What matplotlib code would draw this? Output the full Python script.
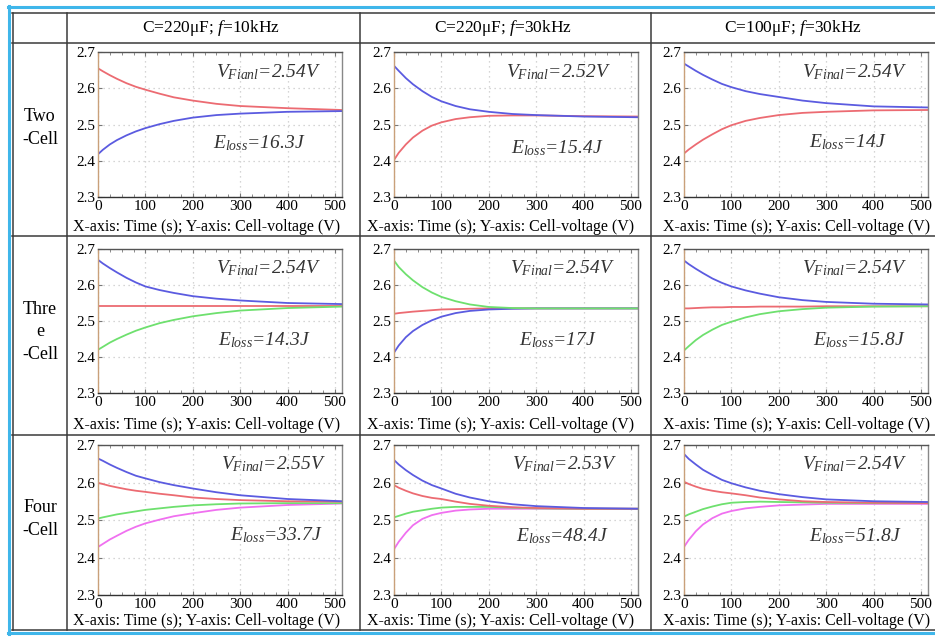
"""Cell-voltage balancing table: 3 cell counts x 3 (C, f) settings."""
import matplotlib
matplotlib.use("Agg")
import matplotlib.pyplot as plt
from matplotlib.lines import Line2D

plt.rcParams["font.family"] = ["Liberation Serif", "DejaVu Serif"]
plt.rcParams["mathtext.fontset"] = "custom"
plt.rcParams["mathtext.rm"] = "Liberation Serif"
plt.rcParams["mathtext.it"] = "Liberation Serif:italic"

W, H = 935, 637

# time samples (s)
T = [0, 10, 25, 40, 60, 80, 100, 130, 160, 200, 250, 300, 400, 515]

COL_TITLES = ["C=220\u03bcF; $f$=10kHz", "C=220\u03bcF; $f$=30kHz", "C=100\u03bcF; $f$=30kHz"]
ROW_LABELS = ["Two\n-Cell", "Thre\ne\n-Cell", "Four\n-Cell"]
X_TICKS = [0, 100, 200, 300, 400, 500]
Y_TICKS = [2.3, 2.4, 2.5, 2.6, 2.7]
CAPTION = "X-axis: Time (s); Y-axis: Cell-voltage (V)"

V_NAMES = [["Fianl", "Final", "Final"], ["Final", "Final", "Final"], ["Final", "Final", "Final"]]
V_FINAL = [["2.54V", "2.52V", "2.54V"], ["2.54V", "2.54V", "2.54V"], ["2.55V", "2.53V", "2.54V"]]
E_LOSS = [["16.3J", "15.4J", "14J"], ["14.3J", "17J", "15.8J"], ["33.7J", "48.4J", "51.8J"]]

# two-cell
two_10k_red = [2.655, 2.647, 2.636, 2.626, 2.614, 2.604, 2.596, 2.585, 2.575, 2.566, 2.557, 2.551, 2.545, 2.540]
two_10k_blue = [2.418, 2.430, 2.445, 2.457, 2.470, 2.481, 2.490, 2.501, 2.510, 2.519, 2.526, 2.530, 2.535, 2.537]
two_30k_blue = [2.662, 2.648, 2.628, 2.611, 2.592, 2.576, 2.564, 2.551, 2.542, 2.535, 2.529, 2.526, 2.522, 2.520]
two_30k_red = [2.402, 2.422, 2.445, 2.464, 2.483, 2.497, 2.506, 2.515, 2.520, 2.524, 2.525, 2.525, 2.523, 2.522]
two_100u_blue = [2.668, 2.660, 2.648, 2.637, 2.624, 2.612, 2.603, 2.592, 2.584, 2.576, 2.566, 2.559, 2.550, 2.547]
two_100u_red = [2.420, 2.431, 2.445, 2.458, 2.473, 2.487, 2.498, 2.510, 2.518, 2.526, 2.532, 2.535, 2.539, 2.540]

# three-cell
three_10k_blue = [2.670, 2.660, 2.647, 2.635, 2.620, 2.607, 2.596, 2.586, 2.578, 2.569, 2.562, 2.557, 2.550, 2.547]
three_10k_red = [2.542, 2.542, 2.542, 2.542, 2.542, 2.542, 2.542, 2.542, 2.542, 2.542, 2.542, 2.542, 2.542, 2.542]
three_10k_green = [2.420, 2.428, 2.440, 2.450, 2.462, 2.473, 2.482, 2.494, 2.503, 2.513, 2.522, 2.529, 2.536, 2.540]
three_30k_green = [2.668, 2.650, 2.630, 2.613, 2.594, 2.579, 2.567, 2.555, 2.546, 2.539, 2.536, 2.535, 2.535, 2.535]
three_30k_red = [2.520, 2.522, 2.524, 2.526, 2.528, 2.530, 2.532, 2.533, 2.534, 2.535, 2.535, 2.535, 2.535, 2.535]
three_30k_blue = [2.412, 2.432, 2.455, 2.472, 2.489, 2.502, 2.512, 2.522, 2.528, 2.532, 2.534, 2.535, 2.535, 2.535]
three_100u_blue = [2.668, 2.658, 2.645, 2.633, 2.618, 2.606, 2.596, 2.585, 2.576, 2.566, 2.558, 2.553, 2.548, 2.546]
three_100u_red = [2.535, 2.535, 2.536, 2.537, 2.538, 2.538, 2.539, 2.539, 2.540, 2.540, 2.540, 2.541, 2.541, 2.541]
three_100u_green = [2.418, 2.430, 2.447, 2.461, 2.476, 2.489, 2.498, 2.510, 2.519, 2.527, 2.533, 2.537, 2.540, 2.541]

# four-cell
four_10k_blue = [2.664, 2.658, 2.648, 2.639, 2.628, 2.618, 2.611, 2.601, 2.593, 2.584, 2.574, 2.566, 2.556, 2.550]
four_10k_red = [2.599, 2.596, 2.591, 2.587, 2.582, 2.578, 2.575, 2.570, 2.566, 2.560, 2.556, 2.553, 2.550, 2.549]
four_10k_green = [2.504, 2.507, 2.511, 2.515, 2.519, 2.523, 2.527, 2.531, 2.535, 2.539, 2.542, 2.544, 2.545, 2.545]
four_10k_mag = [2.428, 2.436, 2.448, 2.458, 2.471, 2.482, 2.491, 2.501, 2.510, 2.518, 2.527, 2.533, 2.540, 2.544]
four_30k_blue = [2.660, 2.648, 2.633, 2.620, 2.605, 2.593, 2.584, 2.570, 2.560, 2.550, 2.542, 2.537, 2.532, 2.530]
four_30k_red = [2.593, 2.586, 2.578, 2.571, 2.564, 2.559, 2.556, 2.549, 2.543, 2.538, 2.534, 2.532, 2.530, 2.530]
four_30k_green = [2.507, 2.511, 2.517, 2.522, 2.526, 2.530, 2.533, 2.535, 2.535, 2.535, 2.533, 2.531, 2.530, 2.530]
four_30k_mag = [2.422, 2.442, 2.466, 2.486, 2.503, 2.513, 2.519, 2.525, 2.528, 2.530, 2.530, 2.530, 2.530, 2.530]
four_100u_blue = [2.676, 2.663, 2.648, 2.634, 2.620, 2.607, 2.598, 2.587, 2.578, 2.569, 2.561, 2.555, 2.550, 2.548]
four_100u_red = [2.602, 2.596, 2.589, 2.583, 2.578, 2.574, 2.571, 2.566, 2.560, 2.555, 2.550, 2.548, 2.546, 2.545]
four_100u_green = [2.509, 2.515, 2.522, 2.529, 2.536, 2.542, 2.546, 2.548, 2.549, 2.548, 2.547, 2.546, 2.545, 2.545]
four_100u_mag = [2.428, 2.447, 2.470, 2.488, 2.505, 2.517, 2.524, 2.531, 2.535, 2.539, 2.541, 2.543, 2.543, 2.543]

RED, BLUE, GREEN, MAG = "#ec6b72", "#5b5be0", "#6ee06e", "#f070f0"

PANELS = [
    [[(two_10k_red, RED), (two_10k_blue, BLUE)],
     [(two_30k_red, RED), (two_30k_blue, BLUE)],
     [(two_100u_red, RED), (two_100u_blue, BLUE)]],
    [[(three_10k_red, RED), (three_10k_green, GREEN), (three_10k_blue, BLUE)],
     [(three_30k_red, RED), (three_30k_blue, BLUE), (three_30k_green, GREEN)],
     [(three_100u_red, RED), (three_100u_green, GREEN), (three_100u_blue, BLUE)]],
    [[(four_10k_mag, MAG), (four_10k_green, GREEN), (four_10k_red, RED), (four_10k_blue, BLUE)],
     [(four_30k_mag, MAG), (four_30k_green, GREEN), (four_30k_red, RED), (four_30k_blue, BLUE)],
     [(four_100u_mag, MAG), (four_100u_green, GREEN), (four_100u_red, RED), (four_100u_blue, BLUE)]],
]

# layout in pixels
COL_LEFT = [98, 394, 684]
AX_W = 244
ROW_TOP = [52, 249, 445]
ROW_BOT = [197, 393, 595]
V_POS = [[(0.70, 0.86), (0.675, 0.86), (0.70, 0.86)],
         [(0.70, 0.87), (0.69, 0.87), (0.70, 0.87)],
         [(0.72, 0.87), (0.70, 0.87), (0.70, 0.87)]]
E_POS = [[(0.66, 0.37), (0.67, 0.34), (0.67, 0.38)],
         [(0.68, 0.37), (0.67, 0.37), (0.72, 0.37)],
         [(0.73, 0.40), (0.69, 0.39), (0.70, 0.39)]]
CAP_X = [207, 501, 797]
CAP_Y = [227, 425, 621]
TITLE_X = [211, 503, 793]
ROW_LABEL_Y = [128, 332, 519]


def fx(px):
    return px / W


def fy(py):
    return 1 - py / H


def main():
    fig = plt.figure(figsize=(W / 100, H / 100), dpi=100)

    def hline(y, x0, x1, color="#3a3a3a", lw=1.1):
        fig.add_artist(Line2D([fx(x0), fx(x1)], [fy(y), fy(y)], color=color, lw=lw,
                              transform=fig.transFigure))

    def vline(x, y0, y1, color="#3a3a3a", lw=1.1):
        fig.add_artist(Line2D([fx(x), fx(x)], [fy(y0), fy(y1)], color=color, lw=lw,
                              transform=fig.transFigure))

    # outer light-blue frame
    hline(7, 8, W, color="#3fb6ea", lw=2.2)
    hline(633, 8, W, color="#3fb6ea", lw=2.2)
    vline(9, 6, 634, color="#3fb6ea", lw=2.2)

    # table grid
    for y in (13, 43, 236, 435, 630):
        hline(y, 12, W)
    for x in (12.5, 67, 360, 651):
        vline(x, 13, 630)

    for c, title in enumerate(COL_TITLES):
        fig.text(fx(TITLE_X[c]), fy(28), title, ha="center", va="center", fontsize=12.5)
    for r, lab in enumerate(ROW_LABELS):
        fig.text(fx(40), fy(ROW_LABEL_Y[r]), lab, ha="center", va="center", fontsize=13,
                 linespacing=1.4)

    for r in range(3):
        for c in range(3):
            rect = (fx(COL_LEFT[c]), fy(ROW_BOT[r]), AX_W / W, (ROW_BOT[r] - ROW_TOP[r]) / H)
            ax = fig.add_axes(rect)
            for vals, color in PANELS[r][c]:
                ax.plot(T, vals, color=color, lw=1.3)
            ax.set_xlim(0, 515)
            ax.set_ylim(2.3, 2.7)
            ax.set_xticks(X_TICKS)
            ax.set_yticks(Y_TICKS)
            ax.set_yticklabels([f"{v:.1f}" for v in Y_TICKS])
            ax.set_xticks(range(0, 516, 25), minor=True)
            ax.grid(True, which="major", color="#c8c8c8", ls=(0, (1, 3)), lw=0.9)
            ax.tick_params(which="both", direction="in", top=True, right=False,
                           labelsize=11, pad=2, length=3, color="#777777")
            ax.tick_params(which="minor", length=2)
            for side, col in (("left", "#c9a07a"), ("bottom", "#333333"),
                              ("top", "#555555"), ("right", "#888888")):
                ax.spines[side].set_color(col)
                ax.spines[side].set_linewidth(1.0)

            vx, vy = V_POS[r][c]
            ax.text(vx, vy, f"$V_{{{V_NAMES[r][c]}}}$={V_FINAL[r][c]}", transform=ax.transAxes,
                    ha="center", va="center", fontsize=14, style="italic", color="#333333")
            ex, ey = E_POS[r][c]
            ax.text(ex, ey, f"$E_{{loss}}$={E_LOSS[r][c]}", transform=ax.transAxes,
                    ha="center", va="center", fontsize=14, style="italic", color="#333333")

            fig.text(fx(CAP_X[c]), fy(CAP_Y[r]), CAPTION, ha="center", va="center",
                     fontsize=11.5)

    fig.savefig("out.png", dpi=100)


if __name__ == "__main__":
    main()
